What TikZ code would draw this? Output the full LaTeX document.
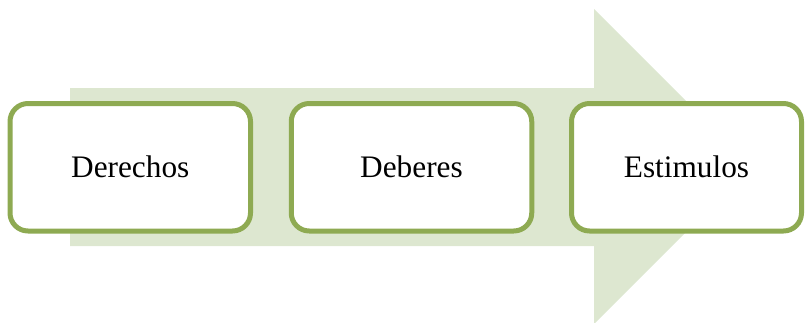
\documentclass[tikz,border=0pt]{standalone}
\usepackage{fontspec}
\setmainfont{Liberation Serif}
\definecolor{boxgreen}{RGB}{142,170,82}
\definecolor{arrowfill}{RGB}{221,231,208}
\begin{document}
\begin{tikzpicture}[x=1pt,y=-1pt,
  box/.style={draw=boxgreen, line width=5pt, fill=white, rounded corners=18pt,
    minimum width=240.5pt, minimum height=127.5pt, inner sep=0pt,
    font=\fontsize{31.3}{36}\selectfont}]
\useasboundingbox (0,0) rectangle (805,322);
\clip (0,0) rectangle (805,322);
\fill[arrowfill] (70,88) -- (594,88) -- (594,9) -- (751.5,166.5) -- (594,324) -- (594,246) -- (70,246) -- cycle;
\node[box] (d1) at (130.25,167.25) {Derechos};
\node[box] (d2) at (411.5,167.25) {Deberes};
\node[box, minimum width=230pt] (d3) at (686.5,167.25) {Estimulos};
\end{tikzpicture}
\end{document}
